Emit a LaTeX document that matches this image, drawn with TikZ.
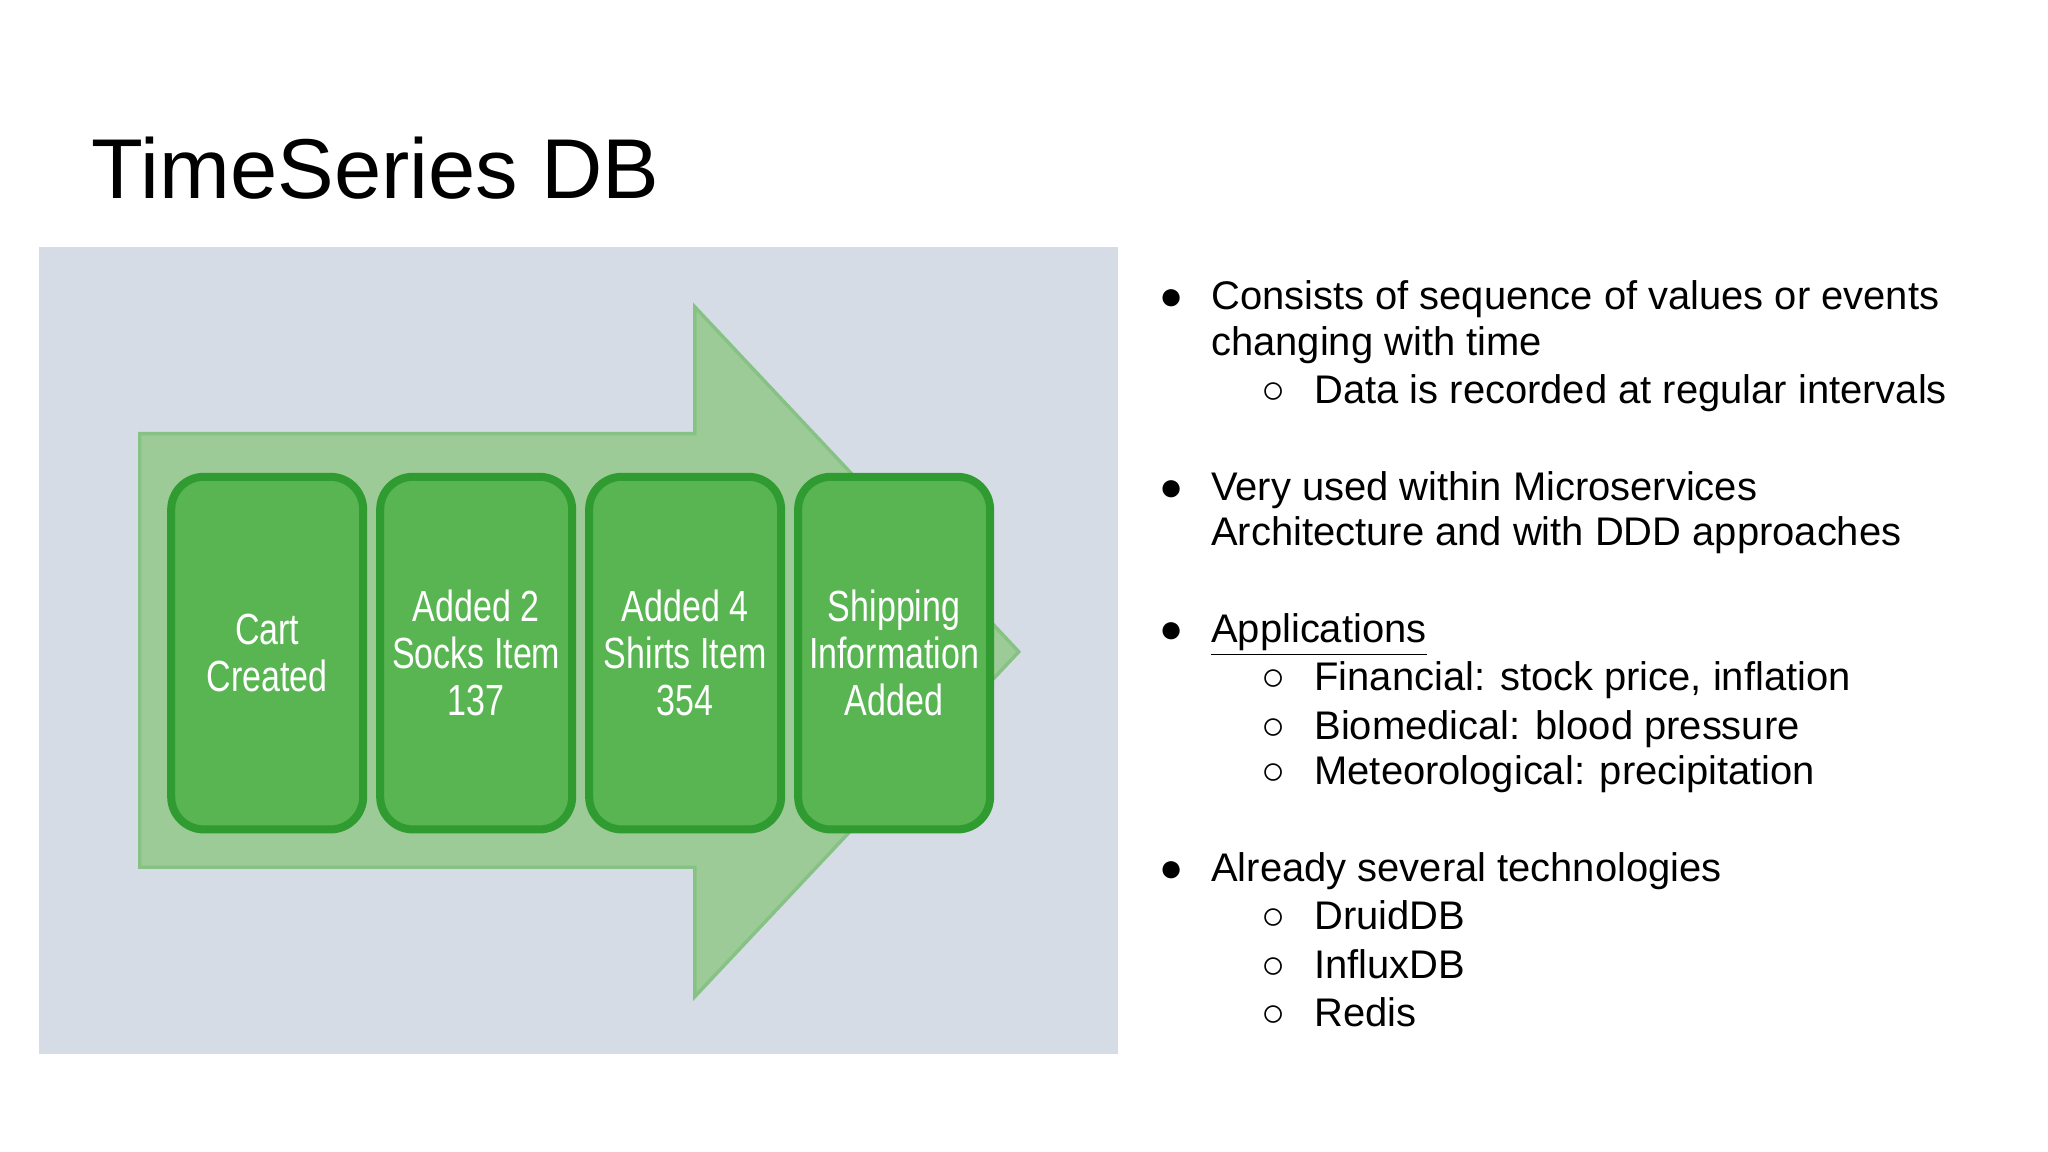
\documentclass[tikz,border=0pt]{standalone}
\usepackage{fontspec}
\setmainfont{Liberation Sans}
\newfontfamily\narrow[FakeStretch=0.78]{Liberation Sans}
\definecolor{panel}{HTML}{D6DCE6}
\definecolor{arrowfill}{HTML}{9CCB98}
\definecolor{arrowline}{HTML}{86C283}
\definecolor{boxfill}{HTML}{58B552}
\definecolor{boxline}{HTML}{2F9B30}
\begin{document}
\begin{tikzpicture}[x=0.02cm,y=-0.02cm,
  box/.style={draw=boxline,line width=3.5pt,fill=boxfill,rounded corners=0.5cm,minimum width=2.94cm,minimum height=5.4cm,anchor=north west,text=white,font=\narrow\fontsize{19pt}{20.5pt}\selectfont,align=center},
  txt/.style={anchor=base west,font=\fontsize{17.4pt}{20pt}\selectfont,inner sep=0pt},
  dot/.style={anchor=base,font=\fontsize{17.4pt}{20pt}\selectfont,inner sep=0pt}]
\useasboundingbox (0,0) rectangle (1568,882);
\fill[white] (0,0) rectangle (1568,882);
\node[anchor=base west,inner sep=0pt,font=\fontsize{37pt}{40pt}\selectfont] (title) at (70,152) {TimeSeries DB};
\fill[panel] (30,189) rectangle (856,807);
\draw[arrowline,fill=arrowfill,line width=1.5pt,line join=miter] (107,332) -- (532,332) -- (532,235) -- (780,499) -- (532,763) -- (532,664) -- (107,664) -- cycle;
\node[box] (b1) at (128,362) {Cart\\Created};
\node[box] (b2) at (288,362) {Added 2\\Socks Item\\137};
\node[box] (b3) at (448,362) {Added 4\\Shirts Item\\354};
\node[box] (b4) at (608,362) {Shipping\\Information\\Added};
% bullets
\foreach \y/\t in {237/{Consists of sequence of values or events},383/{Very used within Microservices},675/{Already several technologies}}
  {\node[dot] at (897,\y) {●}; \node[txt] at (927,\y) {\t};}
\node[dot] (d3) at (897,492) {●};
\node[txt] (app) at (927,492) {\underline{Applications}};
\foreach \y/\t in {272/{changing with time},418/{Architecture and with DDD approaches}}
  {\node[txt] at (927,\y) {\t};}
\foreach \y/\t in {309/{Data is recorded at regular intervals},529/{Financial: stock price, inflation},566/{Biomedical: blood pressure},601/{Meteorological: precipitation},712/{DruidDB},749/{InfluxDB},786/{Redis}}
  {\node[dot] at (975,\y) {○}; \node[txt] at (1006,\y) {\t};}
\end{tikzpicture}
\end{document}
